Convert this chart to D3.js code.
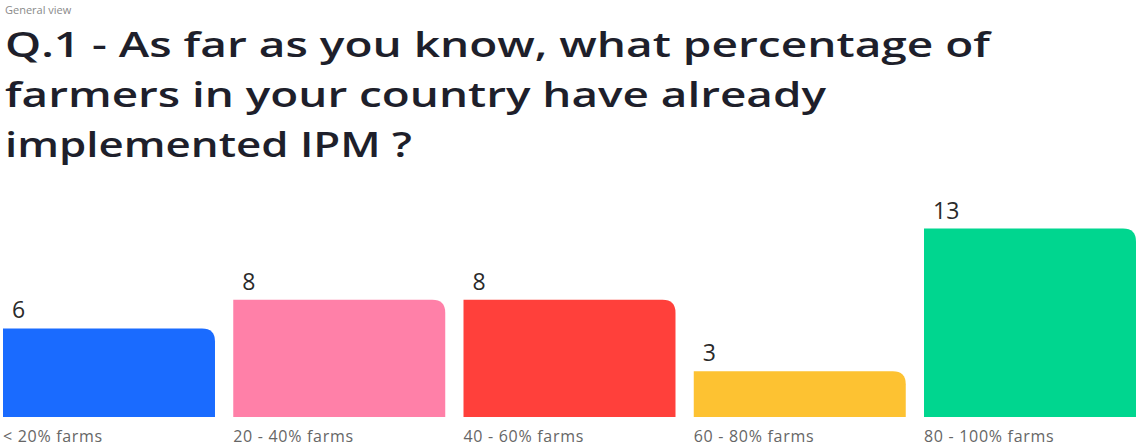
<!DOCTYPE html>
<html>
<head>
<meta charset="utf-8">
<script src="https://cdn.jsdelivr.net/npm/d3@7"></script>
<style>
  body { margin: 0; background: #fff; }
  svg { display: block; }
</style>
</head>
<body>
<svg id="drawing_region"></svg>
<script>
const categories = ["< 20% farms", "20 - 40% farms", "40 - 60% farms", "60 - 80% farms", "80 - 100% farms"];
const values = [6, 8, 8, 3, 13];
const colors = ["#1a6bff", "#ff80a8", "#ff403b", "#fdc232", "#00d68f"];
const titleLines = [
    "Q.1 - As far as you know, what percentage of",
    "farmers in your country have already",
    "implemented IPM ?"
];
const titleWidths = [985, 821, 407];

const width = 1136, height = 448;
const baseline = 417;
const font = "'Open Sans', 'DejaVu Sans', sans-serif";

const svg = d3.select('#drawing_region')
    .attr('width', width)
    .attr('height', height);

// header
svg.append('text')
    .attr('x', 5).attr('y', 14)
    .attr('font-family', font)
    .attr('font-size', '11px')
    .attr('fill', '#8a8a8a')
    .text('General view');

svg.selectAll('text.title')
    .data(titleLines)
    .enter()
    .append('text')
    .attr('class', 'title')
    .attr('x', 5)
    .attr('y', (d, i) => 57 + i * 50)
    .attr('font-family', font)
    .attr('font-size', '35px')
    .attr('font-weight', 600)
    .attr('fill', '#1e1f2b')
    .attr('textLength', (d, i) => titleWidths[i])
    .attr('lengthAdjust', 'spacingAndGlyphs')
    .text(d => d);

// scales
const xscale = d3.scaleBand()
    .domain(categories)
    .range([3, 1136])
    .paddingInner(0.0793)
    .paddingOuter(0);

const yscale = d3.scaleLinear()
    .domain([0, 13])
    .range([414, 228.5]);

const r = 13;
function barPath(d, i) {
    const x0 = xscale(categories[i]);
    const x1 = x0 + xscale.bandwidth();
    const y0 = yscale(d);
    return `M${x0},${baseline}V${y0}H${x1 - r}Q${x1},${y0} ${x1},${y0 + r}V${baseline}Z`;
}

svg.selectAll('path.bar')
    .data(values)
    .enter()
    .append('path')
    .attr('class', 'bar')
    .attr('d', barPath)
    .attr('fill', (d, i) => colors[i]);

svg.selectAll('text.value')
    .data(values)
    .enter()
    .append('text')
    .attr('class', 'value')
    .attr('x', (d, i) => xscale(categories[i]) + 9)
    .attr('y', d => yscale(d) - 10)
    .attr('font-family', font)
    .attr('font-size', '23px')
    .attr('fill', '#2a2a2a')
    .text(d => d);

svg.selectAll('text.cat')
    .data(categories)
    .enter()
    .append('text')
    .attr('class', 'cat')
    .attr('x', d => xscale(d))
    .attr('y', 442)
    .attr('font-family', font)
    .attr('font-size', '16px')
    .attr('letter-spacing', '0.7px')
    .attr('fill', '#666')
    .text(d => d);
</script>
</body>
</html>
